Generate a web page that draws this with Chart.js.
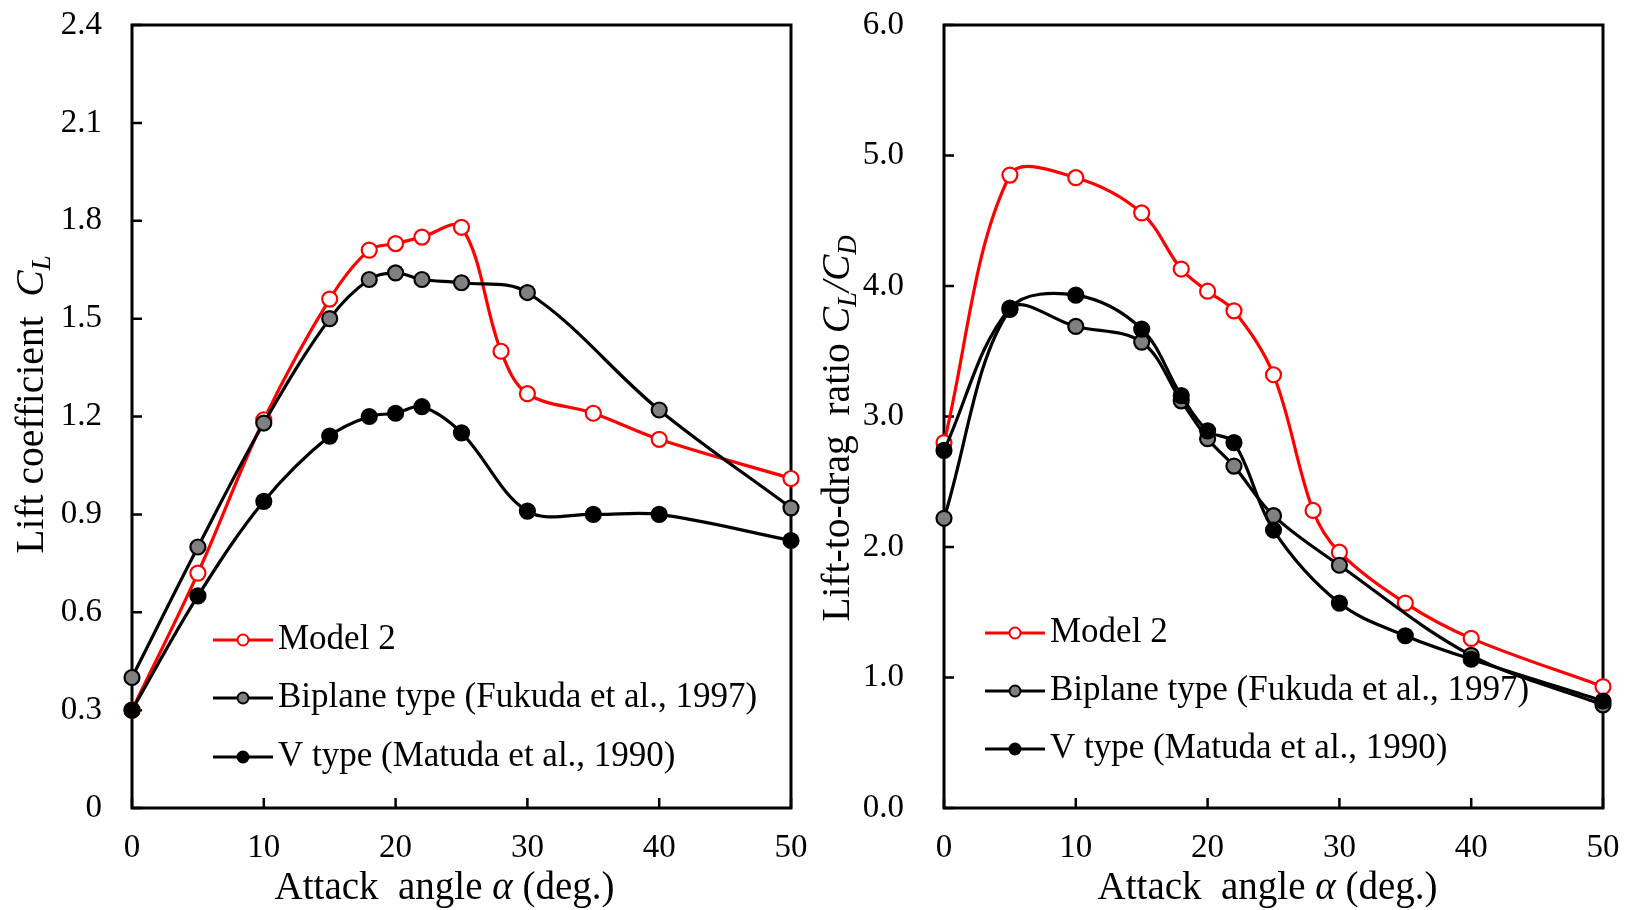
<!DOCTYPE html>
<html>
<head>
<meta charset="utf-8">
<script src="https://cdn.jsdelivr.net/npm/chart.js@4.4.1/dist/chart.umd.min.js"></script>
<style>
  html, body { margin: 0; padding: 0; background: #fff; }
  #wrap { position: relative; width: 1626px; height: 910px; }
  .panel { position: absolute; top: 0; width: 813px; height: 910px; }
</style>
</head>
<body>
<div id="wrap">
  <div class="panel" style="left:0"><canvas id="clChart" width="813" height="910"></canvas></div>
  <div class="panel" style="left:813px"><canvas id="ldChart" width="813" height="910"></canvas></div>
</div>
<script>
// attack angles (deg.) for each series
const anglesModel2 = [0, 5, 10, 15, 18, 20, 22, 25, 28, 30, 35, 40, 50];
const anglesBiplane = [0, 5, 10, 15, 18, 20, 22, 25, 30, 40, 50];
const anglesVType = [0, 5, 10, 15, 18, 20, 22, 25, 30, 35, 40, 50];

// lift coefficient CL
const clModel2 = [0.30, 0.72, 1.19, 1.56, 1.71, 1.73, 1.75, 1.78, 1.40, 1.27, 1.21, 1.13, 1.01];
const clBiplane = [0.40, 0.80, 1.18, 1.50, 1.62, 1.64, 1.62, 1.61, 1.58, 1.22, 0.92];
const clVType = [0.30, 0.65, 0.94, 1.14, 1.20, 1.21, 1.23, 1.15, 0.91, 0.90, 0.90, 0.82];

// lift-to-drag ratio CL/CD
const ldModel2 = [2.80, 4.85, 4.83, 4.56, 4.13, 3.96, 3.81, 3.32, 2.28, 1.96, 1.57, 1.30, 0.93];
const ldBiplane = [2.22, 3.82, 3.69, 3.57, 3.12, 2.83, 2.62, 2.24, 1.86, 1.17, 0.79];
const ldVType = [2.74, 3.83, 3.93, 3.67, 3.16, 2.89, 2.80, 2.13, 1.57, 1.32, 1.14, 0.82];

const seriesNames = ["Model 2", "Biplane type (Fukuda et al., 1997)", "V type (Matuda et al., 1990)"];

const xTicks = [0, 10, 20, 30, 40, 50];
const clTicks = [0, 0.3, 0.6, 0.9, 1.2, 1.5, 1.8, 2.1, 2.4];
const ldTicks = [0, 1, 2, 3, 4, 5, 6];

const SERIF = "'Liberation Serif', 'Times New Roman', serif";
Chart.defaults.font.family = SERIF;
Chart.defaults.color = "#000";

function zip(xs, ys) {
  return xs.map((x, i) => ({ x, y: ys[i] }));
}

function makeSeries(x, y, name, line, fill, order) {
  return {
    label: name,
    data: zip(x, y),
    borderColor: line,
    backgroundColor: fill,
    pointBackgroundColor: fill,
    pointBorderColor: line,
    pointRadius: 7.5,
    pointBorderWidth: 2.2,
    borderWidth: 3.2,
    tension: 0.35,
    clip: false,
    order
  };
}

// text made of normal / italic / subscript parts, centred on x
function drawRich(ctx, parts, x, y, size) {
  const fontOf = (p) => `${p.italic ? "italic " : ""}${p.sub ? size * 0.68 : size}px ${SERIF}`;
  let total = 0;
  parts.forEach((p) => { ctx.font = fontOf(p); total += ctx.measureText(p.t).width; });
  let cx = x - total / 2;
  ctx.textAlign = "left";
  ctx.textBaseline = "middle";
  parts.forEach((p) => {
    ctx.font = fontOf(p);
    ctx.fillText(p.t, cx, p.sub ? y + size * 0.25 : y);
    cx += ctx.measureText(p.t).width;
  });
}

const decoPlugin = {
  id: "deco",
  beforeDatasetsDraw(chart) {
    const { ctx, chartArea: a, scales } = chart;
    ctx.save();
    ctx.strokeStyle = "#000";
    ctx.lineWidth = 2.5;
    ctx.beginPath();
    scales.x.ticks.forEach((t) => {
      const px = scales.x.getPixelForValue(t.value);
      ctx.moveTo(px, a.bottom);
      ctx.lineTo(px, a.bottom - 10);
    });
    scales.y.ticks.forEach((t) => {
      const py = scales.y.getPixelForValue(t.value);
      ctx.moveTo(a.left, py);
      ctx.lineTo(a.left + 10, py);
    });
    ctx.stroke();
    ctx.lineWidth = 3;
    ctx.strokeRect(a.left, a.top, a.right - a.left, a.bottom - a.top);
    ctx.restore();
  },
  afterDraw(chart, args, opts) {
    const { ctx, chartArea: a } = chart;
    ctx.save();
    ctx.fillStyle = "#000";

    // x title
    drawRich(ctx, [{ t: "Attack  angle " }, { t: "\u03b1", italic: true }, { t: " (deg.)" }],
      (a.left + a.right) / 2 + opts.xTitleDx, 889, 39);

    // y title, rotated
    ctx.save();
    ctx.translate(opts.yTitleX, (a.top + a.bottom) / 2 + opts.yTitleDy);
    ctx.rotate(-Math.PI / 2);
    drawRich(ctx, opts.yTitle, 0, 0, 39.5);
    ctx.restore();

    // legend
    const ds = chart.data.datasets;
    ds.forEach((d, i) => {
      const y = a.bottom - opts.legendRows[i];
      const x0 = a.left + opts.legendX;
      ctx.strokeStyle = d.borderColor;
      ctx.lineWidth = 3.2;
      ctx.beginPath();
      ctx.moveTo(x0, y);
      ctx.lineTo(x0 + 60, y);
      ctx.stroke();
      ctx.beginPath();
      ctx.arc(x0 + 30, y, 5.5, 0, Math.PI * 2);
      ctx.fillStyle = d.pointBackgroundColor;
      ctx.fill();
      ctx.lineWidth = 2;
      ctx.stroke();
      ctx.fillStyle = "#000";
      ctx.font = `35px ${SERIF}`;
      ctx.textAlign = "left";
      ctx.textBaseline = "middle";
      ctx.fillText(d.label, x0 + 65, y);
    });
    ctx.restore();
  }
};

function buildChart(id, ys, yTicks, yFmt, deco, yPad, target) {
  const pad = { left: 0, right: target.padRight, top: 25, bottom: 0 };
  const chart = new Chart(document.getElementById(id), {
    type: "line",
    data: {
      datasets: [
        makeSeries(anglesModel2, ys[0], seriesNames[0], "#ff0000", "#ffffff", 2),
        makeSeries(anglesBiplane, ys[1], seriesNames[1], "#000000", "#808080", 1),
        makeSeries(anglesVType, ys[2], seriesNames[2], "#000000", "#000000", 0)
      ]
    },
    options: {
      responsive: false,
      animation: false,
      devicePixelRatio: 1,
      layout: { padding: pad },
      plugins: { legend: { display: false }, tooltip: { enabled: false }, deco },
      scales: {
        x: {
          type: "linear",
          min: 0,
          max: 50,
          grid: { display: false, drawTicks: false },
          border: { display: false },
          afterBuildTicks: (s) => { s.ticks = xTicks.map((v) => ({ value: v })); },
          afterFit: (s) => { s.height = 102; s.paddingLeft = 0; s.paddingRight = 0; },
          ticks: { font: { size: 33 }, padding: 21, maxRotation: 0 }
        },
        y: {
          min: yTicks[0],
          max: yTicks[yTicks.length - 1],
          grid: { display: false, drawTicks: false },
          border: { display: false },
          afterBuildTicks: (s) => { s.ticks = yTicks.map((v) => ({ value: v })); },
          afterFit: (s) => { s.width = yPad.width; s.paddingTop = 0; s.paddingBottom = 0; },
          ticks: { font: { size: 33 }, padding: yPad.padding, callback: yFmt }
        }
      }
    },
    plugins: [decoPlugin]
  });
  return chart;
}

buildChart("clChart", [clModel2, clBiplane, clVType], clTicks,
  (v) => (v === 0 ? "0" : v.toFixed(1)),
  {
    xTitleDx: -17, yTitleX: 33, yTitleDy: -12,
    yTitle: [{ t: "Lift coefficient  " }, { t: "C", italic: true }, { t: "L", italic: true, sub: true }],
    legendX: 81, legendRows: [168, 110, 51]
  },
  { width: 132, padding: 30 }, { padRight: 22 });

buildChart("ldChart", [ldModel2, ldBiplane, ldVType], ldTicks,
  (v) => v.toFixed(1),
  {
    xTitleDx: -6, yTitleX: 26, yTitleDy: 12,
    yTitle: [{ t: "Lift-to-drag  ratio " }, { t: "C", italic: true }, { t: "L", italic: true, sub: true },
      { t: "/", italic: true }, { t: "C", italic: true }, { t: "D", italic: true, sub: true }],
    legendX: 41, legendRows: [175, 117, 59]
  },
  { width: 131, padding: 40 }, { padRight: 23 });
</script>
</body>
</html>
